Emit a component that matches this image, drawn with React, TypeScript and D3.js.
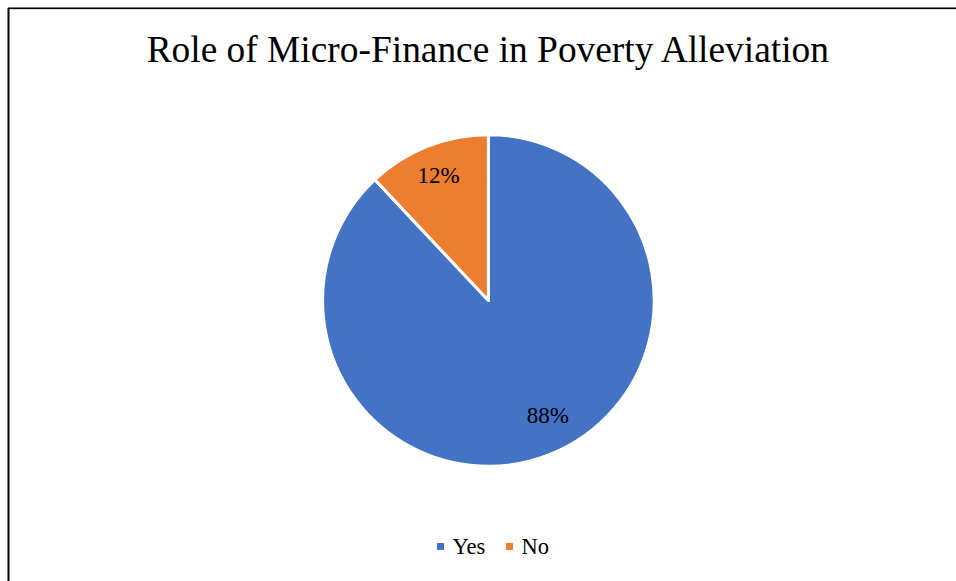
import React from "react";
import * as d3 from "d3";

const title = "Role of Micro-Finance in Poverty Alleviation";
const categories = ["Yes", "No"];
const values = [88, 12];
const colors = ["#4472C4", "#ED7D31"];

const W = 956;
const H = 581;
const FONT = "'Liberation Serif', 'Times New Roman', serif";

export default function App() {
  const cx = 488.4;
  const cy = 300.5;
  const r = 165.8;
  const pie = d3.pie<number>().sort(null).value((d) => d);
  const arcs = pie(values);
  const arc = d3.arc<d3.PieArcDatum<number>>().innerRadius(0).outerRadius(r);
  const labelFrac = [0.78, 0.817];
  const angleShift = [-0.1, 0];
  const total = d3.sum(values);
  const legendX = [437, 506];

  return (
    <svg
      width={W}
      height={H}
      style={{ position: "absolute", left: 0, top: 0, display: "block" }}
    >
      <rect x={0} y={0} width={W} height={H} fill="#fff" />
      <line x1={8} y1={8.5} x2={W} y2={8.5} stroke="#000" strokeWidth={2} />
      <line x1={8} y1={9.5} x2={W} y2={9.5} stroke="#ddd" strokeWidth={1} />
      <line x1={8.5} y1={8} x2={8.5} y2={H} stroke="#000" strokeWidth={2} />
      <text x={487.8} y={62} textAnchor="middle" fontSize={37.4} fill="#000" fontFamily={FONT}>
        {title}
      </text>
      <g transform={`translate(${cx},${cy})`}>
        {arcs.map((a, i) => (
          <path key={i} d={arc(a) || ""} fill={colors[i]} stroke="#fff" strokeWidth={3} strokeLinejoin="round" />
        ))}
        {arcs.map((a, i) => {
          const mid = (a.startAngle + a.endAngle) / 2 + angleShift[i];
          const lr = r * labelFrac[i];
          const x = Math.sin(mid) * lr;
          const y = -Math.cos(mid) * lr;
          return (
            <text key={i} x={x} y={y + 8} textAnchor="middle" fontSize={23} fill="#000" fontFamily={FONT}>
              {`${Math.round((values[i] / total) * 100)}%`}
            </text>
          );
        })}
      </g>
      <g>
        {categories.map((c, i) => {
          const x0 = legendX[i];
          return (
            <g key={c}>
              <rect x={x0} y={543} width={7} height={7} fill={colors[i]} />
              <text x={x0 + 15.5} y={554} fontSize={22.5} fill="#000" fontFamily={FONT}>
                {c}
              </text>
            </g>
          );
        })}
      </g>
    </svg>
  );
}
